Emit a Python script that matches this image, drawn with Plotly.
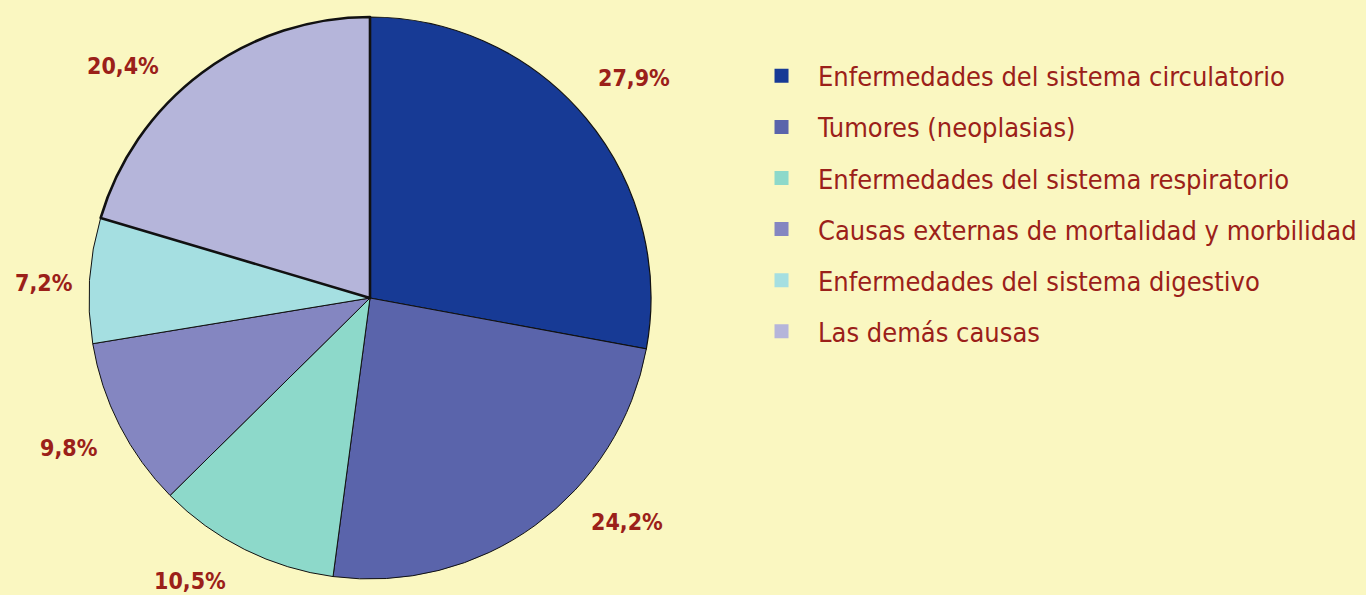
import math
import plotly.graph_objects as go

# Causes of death, share of total (%)
causes = [
    "Enfermedades del sistema circulatorio",
    "Tumores (neoplasias)",
    "Enfermedades del sistema respiratorio",
    "Causas externas de mortalidad y morbilidad",
    "Enfermedades del sistema digestivo",
    "Las demás causas",
]
shares = [27.9, 24.2, 10.5, 9.8, 7.2, 20.4]
labels_txt = ["27,9%", "24,2%", "10,5%", "9,8%", "7,2%", "20,4%"]

colors = ["#173a95", "#5a64ab", "#8dd9ca", "#8486c1", "#a5dfe1", "#b5b5da"]
edge_widths = [1.2, 1.0, 1.0, 1.0, 1.0, 2.6]

W, H = 1366, 595
BG = "#faf7c1"
RED = "#9b2019"
FONT = "Liberation Sans Narrow, Arial Narrow, DejaVu Sans Condensed, sans-serif"

# pie placement (pixels)
cx, cy, R = 370, 298, 281
dom_x = [(cx - R) / W, (cx + R) / W]
dom_y = [1 - (cy + R) / H, 1 - (cy - R) / H]

fig = go.Figure()
fig.add_trace(go.Pie(
    labels=causes,
    values=shares,
    sort=False,
    direction="clockwise",
    rotation=0,
    textinfo="none",
    hoverinfo="label+percent",
    marker=dict(colors=colors, line=dict(color="#111111", width=edge_widths)),
    domain=dict(x=dom_x, y=dom_y),
    showlegend=False,
))

# percentage labels placed around the pie at each slice's mid-angle,
# with small angular / radial adjustments to keep them clear of each other
label_r = 338
nudge_deg = [0, -13, 6, 0.5, -1, -10]
nudge_r = [6, 3, -3, -2, -12, 1]
total = sum(shares)
acc = 0.0
for v, txt, da, dr in zip(shares, labels_txt, nudge_deg, nudge_r):
    mid = (acc + v / 2) / total * 360 + da
    acc += v
    a = math.radians(mid)
    px = cx + (label_r + dr) * math.sin(a)
    py = cy - (label_r + dr) * math.cos(a)
    fig.add_annotation(
        x=px / W, y=1 - py / H, xref="paper", yref="paper",
        text=txt, showarrow=False,
        font=dict(family=FONT, size=23, color=RED, weight="bold"),
        xanchor="center", yanchor="middle",
    )

# legend entries
for name, col in zip(causes, colors):
    fig.add_trace(go.Scatter(
        x=[None], y=[None], mode="markers", name=name,
        legendgroup=name,
        marker=dict(symbol="square", size=14, color=col),
    ))

fig.update_layout(
    width=W, height=H,
    margin=dict(l=0, r=0, t=0, b=0),
    paper_bgcolor=BG, plot_bgcolor=BG,
    xaxis=dict(visible=False), yaxis=dict(visible=False),
    legend=dict(
        x=0.5454, y=0.913, xanchor="left", yanchor="top",
        bgcolor="rgba(0,0,0,0)",
        font=dict(family=FONT, size=27, color=RED),
        tracegroupgap=13,
        itemsizing="trace",
        itemwidth=63,
    ),
)

fig.write_html("out.html")
